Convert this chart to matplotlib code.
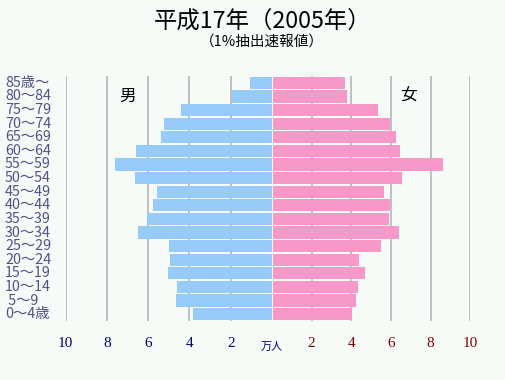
import numpy as np
import matplotlib
matplotlib.use("Agg")
import matplotlib.pyplot as plt
from matplotlib.transforms import blended_transform_factory

plt.rcParams['font.family'] = ['Noto Sans CJK JP', 'DejaVu Sans']

# 年齢階級 (下から上へ)
ages = ["0～4歳", " 5～9", "10～14", "15～19", "20～24", "25～29", "30～34",
        "35～39", "40～44", "45～49", "50～54", "55～59", "60～64", "65～69",
        "70～74", "75～79", "80～84", "85歳～"]
male = [3.82, 4.65, 4.60, 5.03, 4.94, 4.99, 6.49, 6.04, 5.76, 5.57,
        6.64, 7.61, 6.59, 5.37, 5.23, 4.40, 1.93, 1.05]
female = [4.02, 4.22, 4.32, 4.67, 4.37, 5.48, 6.38, 5.88, 5.93, 5.63,
          6.54, 8.64, 6.44, 6.24, 5.93, 5.33, 3.78, 3.67]
tick_vals = [2, 4, 6, 8, 10]

bg = "#f6fbf7"
W, H = 506, 380
fig = plt.figure(figsize=(5.06, 3.80), dpi=100, facecolor=bg)
bottom, height = (H - 321) / H, (321 - 76) / H
axl = fig.add_axes([65.7 / W, bottom, (272 - 65.7) / W, height], facecolor=bg)
axr = fig.add_axes([272 / W, bottom, (470.3 - 272) / W, height], facecolor=bg)

y = np.arange(len(ages))
for v in tick_vals:
    axl.axvline(-v, color="#bbbbbb", lw=1.3, zorder=0)
    axr.axvline(v, color="#bbbbbb", lw=1.3, zorder=0)
axl.barh(y, [-m for m in male], height=0.9, color="#97cbfa", zorder=2)
axr.barh(y, female, height=0.9, color="#f798c8", zorder=2)
axr.axvline(0, color="white", lw=1.4, zorder=3)

axl.set_xlim(-10, 0)
axr.set_xlim(0, 10)
for ax in (axl, axr):
    ax.set_ylim(-0.5, len(ages) - 0.5)
    ax.set_xticks([])
    ax.set_yticks([])
    for s in ax.spines.values():
        s.set_visible(False)

# x軸の数値
for v in tick_vals:
    axl.text(-v, -0.09, str(v), transform=axl.get_xaxis_transform(),
             ha="center", va="center", fontsize=11, color="#000080",
             family="Liberation Serif")
    axr.text(v, -0.09, str(v), transform=axr.get_xaxis_transform(),
             ha="center", va="center", fontsize=11, color="#800000",
             family="Liberation Serif")
axr.text(0, -0.105, "万人", transform=axr.get_xaxis_transform(),
         ha="center", va="center", fontsize=8, color="#000080")

# 年齢ラベル
lt = blended_transform_factory(fig.transFigure, axl.transData)
for i, a in enumerate(ages):
    axl.text(5 / W, i, a, transform=lt, ha="left", va="center",
             fontsize=10.3, color="#50508f")

axl.text(-7.0, 16, "男", ha="center", va="center", fontsize=12, color="black")
axr.text(6.9, 16, "女", ha="center", va="center", fontsize=12, color="black")

fig.text(263 / W, 1 - 22 / H, "平成17年（2005年）", ha="center", va="center",
         fontsize=16.8, color="black")
fig.text(262 / W, 1 - 42 / H, "（1%抽出速報値）", ha="center", va="center",
         fontsize=10.5, color="black")

fig.savefig("out.png", dpi=100, facecolor=bg)
